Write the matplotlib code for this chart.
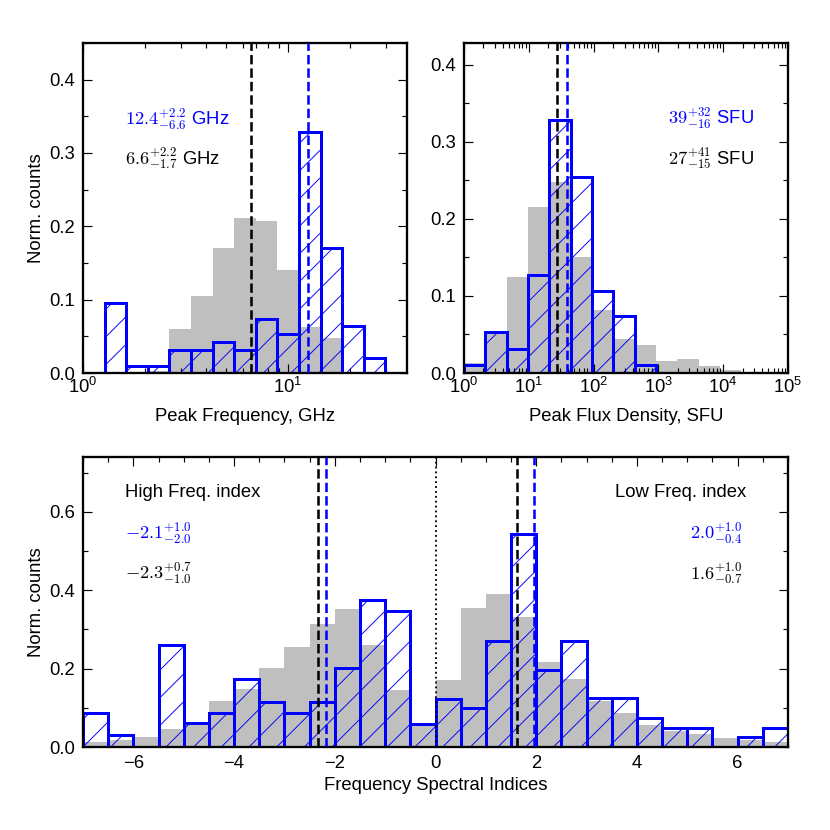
# ライブラリ読み込み.
import numpy as np
import matplotlib
matplotlib.use("Agg")
import matplotlib.pyplot as plt
from matplotlib.ticker import MultipleLocator, LogLocator

plt.rcParams['font.family'] = ['Liberation Sans', 'DejaVu Sans']
plt.rcParams['font.size'] = 8
plt.rcParams['mathtext.fontset'] = 'custom'
plt.rcParams['mathtext.rm'] = 'Liberation Sans'
plt.rcParams['mathtext.it'] = 'Liberation Sans:italic'
plt.rcParams['hatch.linewidth'] = 0.4
plt.rcParams['axes.linewidth'] = 1.0

# データ定義.
# ピーク周波数 (GHz), 対数ビン.
freq_edges = np.logspace(0, np.log10(38.0), 16)
freq_all = [0, 0, 0, 0.003, 0.0605, 0.1045, 0.170, 0.212, 0.207, 0.141, 0.063, 0.048, 0, 0, 0]
freq_sel = [0, 0.095, 0.010, 0.010, 0.032, 0.032, 0.042, 0.031, 0.074, 0.053, 0.328, 0.170, 0.064, 0.021, 0]
freq_med_all = 6.6
freq_med_sel = 12.5

# ピーク流束密度 (SFU).
flux_edges = np.logspace(0, 4.94, 16)
flux_all = [0.013, 0.052, 0.125, 0.2155, 0.248, 0.151, 0.082, 0.0435, 0.036, 0.015, 0.0186, 0.0087, 0.0035, 0, 0]
flux_sel = [0.011, 0.053, 0.031, 0.127, 0.328, 0.254, 0.106, 0.0737, 0.011, 0, 0, 0, 0, 0, 0]
flux_med_all = 27
flux_med_sel = 39

# スペクトル指数.
idx_edges = np.arange(-7.0, 7.01, 0.5)
idx_all = [0.0128, 0.019, 0.0255, 0.047, 0.058, 0.117, 0.148, 0.202, 0.254, 0.315, 0.351, 0.26, 0.145, 0.061,
           0.172, 0.355, 0.391, 0.332, 0.217, 0.174, 0.117, 0.0877, 0.057, 0.041, 0.032, 0.023, 0.017, 0.0128]
idx_sel = [0.087, 0.030, 0, 0.26, 0.060, 0.087, 0.174, 0.115, 0.087, 0.115, 0.202, 0.376, 0.347, 0.058,
           0.123, 0.100, 0.271, 0.543, 0.197, 0.271, 0.125, 0.125, 0.075, 0.049, 0.049, 0, 0.0255, 0.049]
idx_med_all = [-2.33, 1.61]
idx_med_sel = [-2.17, 1.96]


def draw_hist(ax, edges, all_vals, sel_vals):
    edges = np.asarray(edges)
    w = np.diff(edges)
    ax.bar(edges[:-1], all_vals, width=w, align='edge', color='#bfbfbf', linewidth=0, zorder=1)
    ax.bar(edges[:-1], sel_vals, width=w, align='edge', fill=False, edgecolor='blue',
           hatch='//', linewidth=1.3, zorder=2)


def style_ax(ax):
    ax.tick_params(which='both', direction='in', top=True, right=True, width=0.5)
    ax.tick_params(which='major', length=4)
    ax.tick_params(which='minor', length=2)


fig = plt.figure(figsize=(5, 5), dpi=166)

# 左上: ピーク周波数.
ax1 = fig.add_axes([0.1, 0.5506, 0.3904, 0.3976])
draw_hist(ax1, freq_edges, freq_all, freq_sel)
ax1.axvline(freq_med_all, color='k', ls='--', lw=1.1, zorder=3)
ax1.axvline(freq_med_sel, color='blue', ls='--', lw=1.1, zorder=3)
ax1.set_xscale('log')
ax1.set_xlim(1, 38)
ax1.set_ylim(0, 0.45)
ax1.yaxis.set_major_locator(MultipleLocator(0.1))
ax1.yaxis.set_minor_locator(MultipleLocator(0.05))
ax1.set_xlabel("Peak Frequency, GHz", labelpad=5)
ax1.set_ylabel("Norm. counts")
ax1.yaxis.set_label_coords(-0.117, 0.5)
ax1.text(0.13, 0.77, r'$12.4^{+2.2}_{-6.6}$ GHz', color='blue', transform=ax1.transAxes,
         va='center', math_fontfamily='cm')
ax1.text(0.13, 0.65, r'$6.6^{+2.2}_{-1.7}$ GHz', color='k', transform=ax1.transAxes,
         va='center', math_fontfamily='cm')
style_ax(ax1)
ax1.tick_params(axis='x', which='both', pad=1.5)

# 右上: ピーク流束密度.
ax2 = fig.add_axes([0.559, 0.5506, 0.3904, 0.3976])
draw_hist(ax2, flux_edges, flux_all, flux_sel)
ax2.axvline(flux_med_all, color='k', ls='--', lw=1.1, zorder=3)
ax2.axvline(flux_med_sel, color='blue', ls='--', lw=1.1, zorder=3)
ax2.set_xscale('log')
ax2.set_xlim(1, 1e5)
ax2.xaxis.set_major_locator(LogLocator(base=10, numticks=10))
ax2.xaxis.set_minor_locator(LogLocator(base=10, subs=np.arange(2, 10), numticks=20))
ax2.set_ylim(0, 0.428)
ax2.yaxis.set_major_locator(MultipleLocator(0.1))
ax2.yaxis.set_minor_locator(MultipleLocator(0.05))
ax2.set_xlabel("Peak Flux Density, SFU", labelpad=5)
ax2.text(0.63, 0.773, r'$39^{+32}_{-16}$ SFU', color='blue', transform=ax2.transAxes,
         va='center', math_fontfamily='cm')
ax2.text(0.63, 0.648, r'$27^{+41}_{-15}$ SFU', color='k', transform=ax2.transAxes,
         va='center', math_fontfamily='cm')
style_ax(ax2)
ax2.tick_params(axis='x', which='both', pad=1.5)

# 下: スペクトル指数.
ax3 = fig.add_axes([0.1, 0.1, 0.8494, 0.3494])
draw_hist(ax3, idx_edges, idx_all, idx_sel)
for m in idx_med_all:
    ax3.axvline(m, color='k', ls='--', lw=1.1, zorder=3)
for m in idx_med_sel:
    ax3.axvline(m, color='blue', ls='--', lw=1.1, zorder=3)
ax3.axvline(0, color='k', ls=':', lw=0.8, zorder=3)
ax3.set_xlim(-7, 7)
ax3.set_ylim(0, 0.74)
ax3.xaxis.set_major_locator(MultipleLocator(2))
ax3.xaxis.set_minor_locator(MultipleLocator(0.5))
ax3.yaxis.set_major_locator(MultipleLocator(0.2))
ax3.yaxis.set_minor_locator(MultipleLocator(0.1))
ax3.set_xlabel("Frequency Spectral Indices", labelpad=2)
ax3.set_ylabel("Norm. counts")
ax3.yaxis.set_label_coords(-0.054, 0.5)
ax3.text(0.06, 0.879, "High Freq. index", transform=ax3.transAxes, va='center')
ax3.text(0.06, 0.738, r'$-2.1^{+1.0}_{-2.0}$', color='blue', transform=ax3.transAxes,
         va='center', math_fontfamily='cm')
ax3.text(0.06, 0.597, r'$-2.3^{+0.7}_{-1.0}$', color='k', transform=ax3.transAxes,
         va='center', math_fontfamily='cm')
ax3.text(0.941, 0.879, "Low Freq. index", transform=ax3.transAxes, va='center', ha='right')
ax3.text(0.936, 0.738, r'$2.0^{+1.0}_{-0.4}$', color='blue', transform=ax3.transAxes,
         va='center', ha='right', math_fontfamily='cm')
ax3.text(0.936, 0.597, r'$1.6^{+1.0}_{-0.7}$', color='k', transform=ax3.transAxes,
         va='center', ha='right', math_fontfamily='cm')
style_ax(ax3)

plt.savefig("out.png", dpi=166)
